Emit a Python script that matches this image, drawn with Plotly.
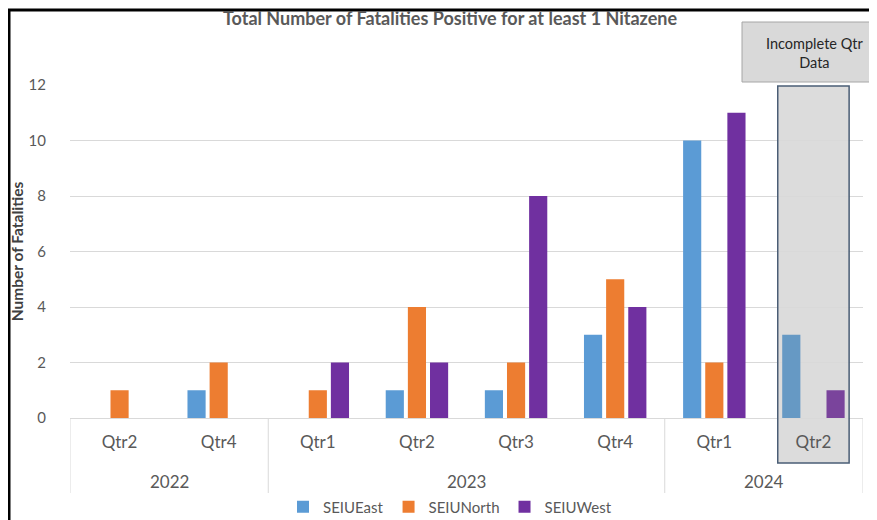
import plotly.graph_objects as go

years = ["2022", "2022", "2023", "2023", "2023", "2023", "2024", "2024"]
quarters = ["Qtr2", "Qtr4", "Qtr1", "Qtr2", "Qtr3", "Qtr4", "Qtr1", "Qtr2"]
east = [0, 1, 0, 1, 1, 3, 10, 3]
north = [1, 2, 1, 4, 2, 5, 2, 0]
west = [0, 0, 2, 2, 8, 4, 11, 1]
series_names = ["SEIUEast", "SEIUNorth", "SEIUWest"]
y_ticks = [0, 2, 4, 6, 8, 10, 12]

colors = ["#5B9BD5", "#ED7D31", "#7030A0"]
muted = ["#6699C4", "#D98A55", "#7A449C"]
n = len(quarters)
incomplete_idx = n - 1
xpos = list(range(n))

FONT = "Lato, Open Sans, sans-serif"
GREY = "#595959"
LINE = "#D9D9D9"

# page geometry (the page body adds an 8px offset before the figure)
OFF = 8
PAGE_W, PAGE_H = 877, 520
W, H = PAGE_W - OFF, PAGE_H - OFF
# plot area in page pixels
PL, PR, PT, PB = 70, 863, 85, 418
L, R, T, B = PL - OFF, PAGE_W - PR, PT - OFF, PAGE_H - PB


def py(pix_y):
    return (PB - pix_y) / (PB - PT)


def px(pix_x):
    return (pix_x - PL) / (PR - PL)


fig = go.Figure()
for name, vals, c, m in zip(series_names, [east, north, west], colors, muted):
    cols = [m if i == incomplete_idx else c for i in range(len(vals))]
    fig.add_trace(go.Bar(
        x=xpos, y=vals, name=name,
        marker=dict(color=cols, line=dict(width=0)),
    ))

fig.update_layout(
    width=W, height=H,
    margin=dict(l=L, r=R, t=T, b=B),
    paper_bgcolor="white", plot_bgcolor="white",
    barmode="group", bargap=0.33, bargroupgap=0.18,
    font=dict(family=FONT, color=GREY),
    title=dict(text="<b>Total Number of Fatalities Positive for at least 1 Nitazene</b>",
               x=(450 - OFF) / W, xref="container", xanchor="center",
               y=1 - (19 - OFF) / H, yref="container", yanchor="middle",
               font=dict(size=18, color=GREY, family=FONT)),
    showlegend=True,
    legend=dict(orientation="h", x=(450 - OFF) / W, xanchor="center", xref="container",
                y=(PAGE_H - 507) / H, yanchor="middle", yref="container",
                font=dict(size=15, color=GREY), traceorder="normal"),
    xaxis=dict(range=[-0.5, n - 0.5], tickvals=xpos, ticktext=quarters,
               showgrid=False, showline=True, linecolor=LINE, linewidth=1,
               tickfont=dict(size=17, color=GREY), ticks="outside", ticklen=9,
               tickcolor="rgba(0,0,0,0)", zeroline=False, automargin=False),
    yaxis=dict(range=[0, 12], tickvals=y_ticks, showgrid=True, gridcolor=LINE,
               gridwidth=1, zeroline=False, showline=False,
               ticks="outside", ticklen=20, tickcolor="rgba(0,0,0,0)",
               tickfont=dict(size=15, color=GREY), automargin=False,
               title=dict(text="<b>Number of Fatalities</b>", standoff=2,
                          font=dict(size=15.5, color="#404040"))),
)

# year group labels and dividers, derived from the years list
groups = []
for i, yv in enumerate(years):
    if not groups or groups[-1][0] != yv:
        groups.append([yv, i, i])
    else:
        groups[-1][2] = i
bounds = [groups[0][1] - 0.5] + [g[2] + 0.5 for g in groups]
for b in bounds:
    fig.add_shape(type="line", xref="x", yref="paper", x0=b, x1=b,
                  y0=0, y1=py(493), line=dict(color=LINE, width=1))
for yv, i0, i1 in groups:
    fig.add_annotation(text=yv, xref="x", yref="paper", x=(i0 + i1) / 2, y=py(481),
                       showarrow=False, yanchor="middle",
                       font=dict(size=17, color=GREY))

# shaded box highlighting the incomplete quarter
fig.add_shape(type="rect", xref="x", yref="paper",
              x0=incomplete_idx - 0.36, x1=incomplete_idx + 0.36,
              y0=py(463), y1=py(86),
              fillcolor="#DCDCDC", line=dict(width=0), layer="between")
fig.add_shape(type="rect", xref="x", yref="paper",
              x0=incomplete_idx - 0.36, x1=incomplete_idx + 0.36,
              y0=py(463), y1=py(86),
              fillcolor="rgba(0,0,0,0)", line=dict(color="#4A5D75", width=1.5), layer="above")

# callout box
fig.add_shape(type="rect", xref="paper", yref="paper",
              x0=px(742), x1=px(886), y0=py(82), y1=py(22),
              fillcolor="#D9D9D9", line=dict(color="#A6A6A6", width=1), layer="above")
fig.add_annotation(text="Incomplete Qtr<br>Data", xref="paper", yref="paper",
                   x=px(814), y=py(53), showarrow=False,
                   font=dict(size=14.5, color="#262626", family=FONT),
                   xanchor="center", yanchor="middle")

# frame edges of the screenshot
fig.add_shape(type="line", xref="paper", yref="paper",
              x0=px(9), x1=px(9), y0=py(PAGE_H + 5), y1=py(9),
              line=dict(color="black", width=3))
fig.add_shape(type="line", xref="paper", yref="paper",
              x0=px(8), x1=px(PAGE_W + 5), y0=py(10), y1=py(10),
              line=dict(color="black", width=3))

fig.write_html("out.html")
